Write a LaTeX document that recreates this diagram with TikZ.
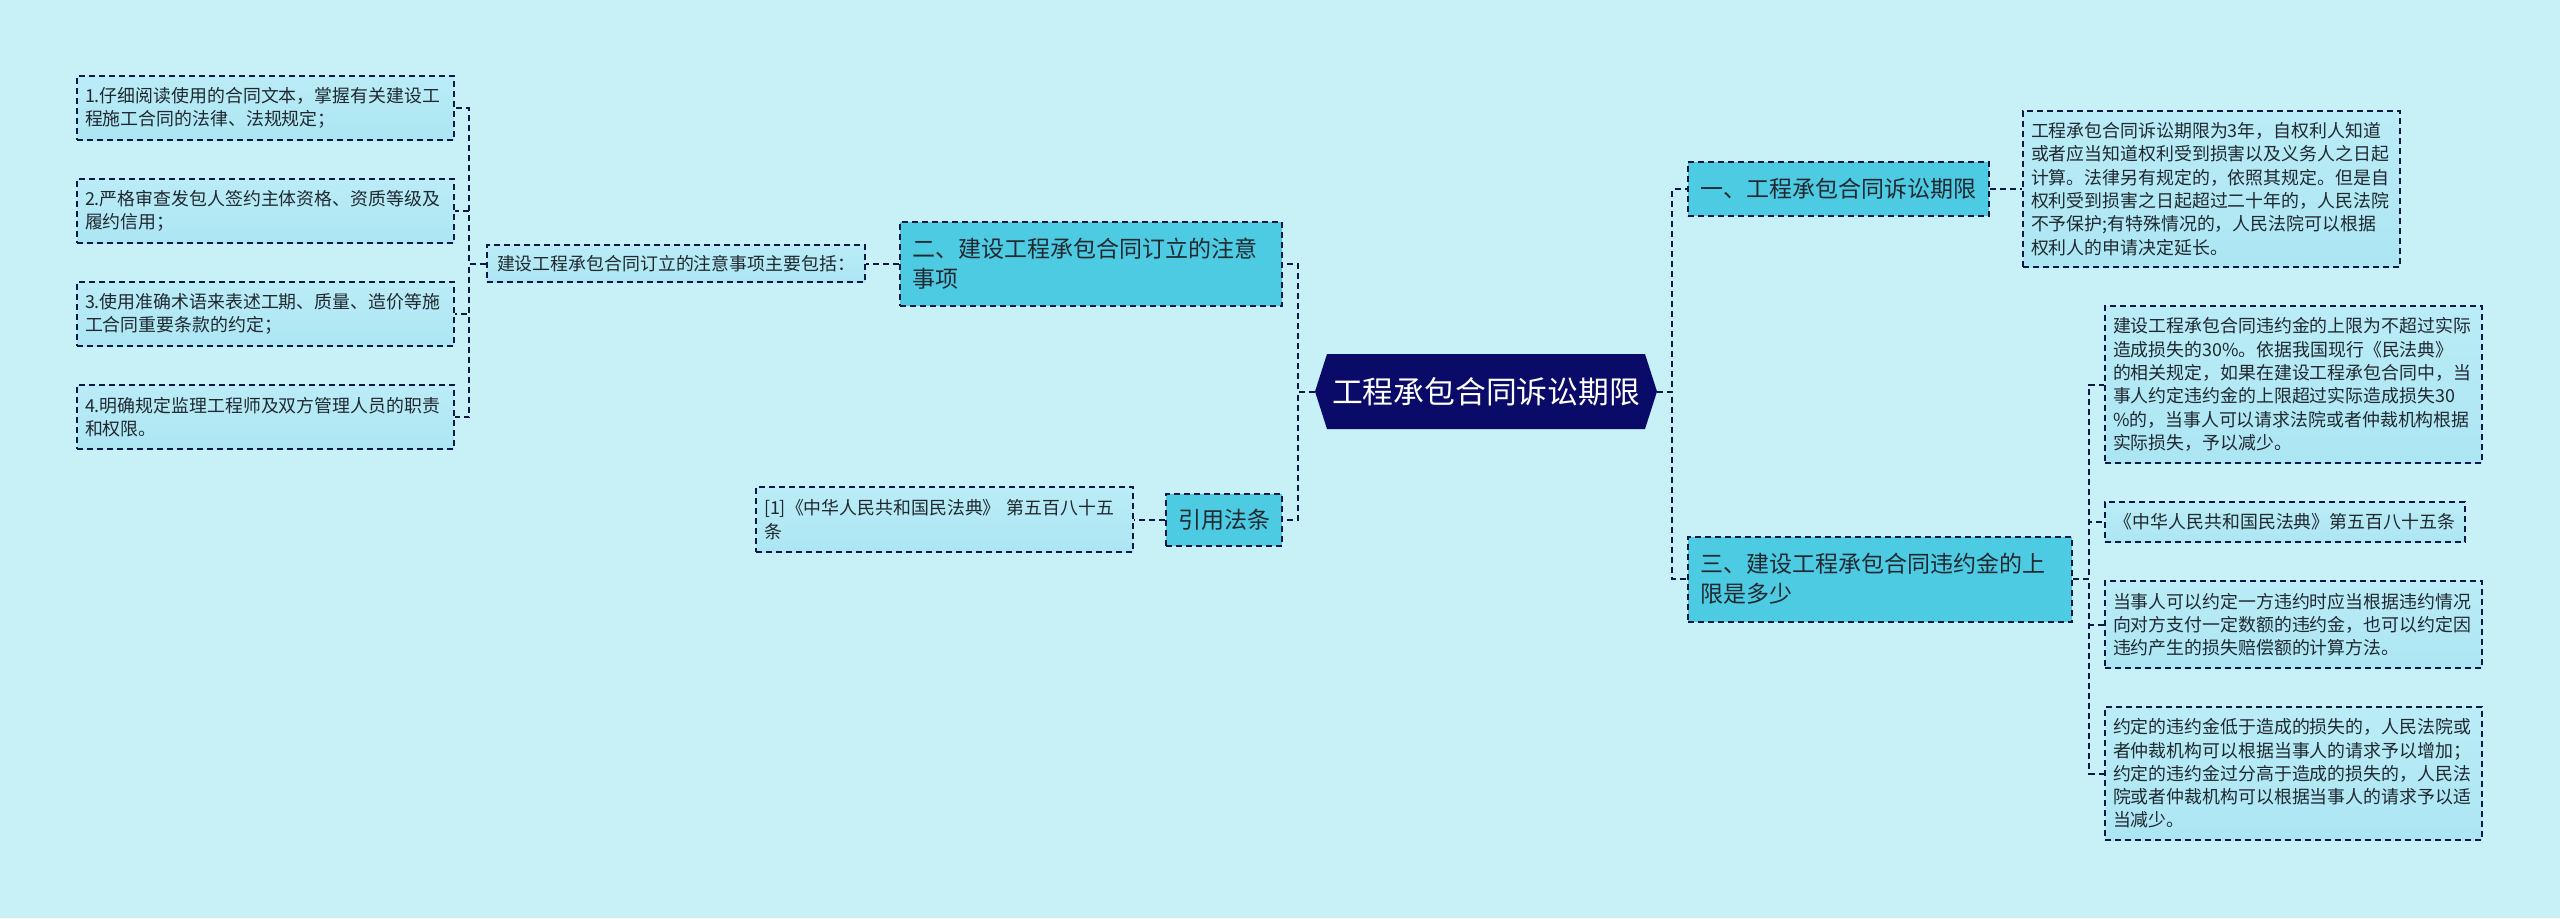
\documentclass[tikz,border=0pt]{standalone}
\usepackage{fontspec}
\setmainfont{Noto Sans CJK SC}
\usetikzlibrary{calc}
\definecolor{bgc}{RGB}{200,240,247}
\definecolor{lightc}{RGB}{172,230,243}
\definecolor{lighttop}{RGB}{186,236,246}
\definecolor{midc}{RGB}{77,203,227}
\definecolor{rootc}{RGB}{10,10,105}
\definecolor{linec}{RGB}{14,24,68}
\definecolor{txtc}{RGB}{32,40,48}
\begin{document}
\begin{tikzpicture}[x=0.5pt,y=-0.5pt,
  conn/.style={draw=linec, line width=1pt, dash pattern=on 3pt off 2pt},
  boxline/.style={draw=linec, line width=1pt, dash pattern=on 3pt off 2pt},
  smallbox/.style={boxline, top color=lighttop, bottom color=lightc, text=txtc,
    font=\fontsize{8.95pt}{11.65pt}\selectfont, align=left, inner xsep=4pt, inner ysep=0pt, text width=180.5pt},
  smallline/.style={boxline, top color=lighttop, bottom color=lightc, text=txtc,
    font=\fontsize{8.95pt}{11.65pt}\selectfont, align=center, inner xsep=4pt, inner ysep=0pt},
  midbox/.style={boxline, fill=midc, text=txtc,
    font=\fontsize{11.5pt}{15pt}\selectfont, align=left, inner xsep=6pt, inner ysep=0pt},
  midline/.style={boxline, fill=midc, text=txtc,
    font=\fontsize{11.5pt}{15pt}\selectfont, align=center, inner xsep=6pt, inner ysep=0pt},
  rootnode/.style={text=white, font=\fontsize{15.4pt}{18pt}\selectfont, inner sep=0pt,
    minimum width=171pt, minimum height=37.5pt}
]
\fill[bgc] (0,0) rectangle (2560,918);
\useasboundingbox (0,0) rectangle (2560,918);

% root hexagon
\fill[rootc] (1315,391.5) -- (1327,354) -- (1645,354) -- (1657,391.5) -- (1645,429) -- (1327,429) -- cycle;
\node[rootnode] (root) at (1486,391.5) {工程承包合同诉讼期限};

% left side
\node[smallbox, minimum height=32pt] (l1) at (265.5,108) {1.仔细阅读使用的合同文本，掌握有关建设工\\程施工合同的法律、法规规定；};
\node[smallbox, minimum height=32pt] (l2) at (265.5,211) {2.严格审查发包人签约主体资格、资质等级及\\履约信用；};
\node[smallbox, minimum height=32pt] (l3) at (265.5,314) {3.使用准确术语来表述工期、质量、造价等施\\工合同重要条款的约定；};
\node[smallbox, minimum height=32pt] (l4) at (265.5,417) {4.明确规定监理工程师及双方管理人员的职责\\和权限。};
\node[smallline, minimum width=189pt, minimum height=18.5pt] (m) at (676,263.5) {建设工程承包合同订立的注意事项主要包括：};
\node[midbox, text width=179pt, minimum height=42pt] (n2) at (1091,263.5) {二、建设工程承包合同订立的注意\\事项};
\node[smallbox, minimum height=32.5pt] (ref) at (944.5,519.5) {[1]《中华人民共和国民法典》 第五百八十五\\条};
\node[midline, minimum width=58pt, minimum height=26pt] (yin) at (1224,519.5) {引用法条};

% right side
\node[midline, minimum width=150.5pt, minimum height=27pt] (n1) at (1838.5,189) {一、工程承包合同诉讼期限};
\node[smallbox, minimum height=78pt] (r1) at (2211.5,189) {工程承包合同诉讼期限为3年，自权利人知道\\或者应当知道权利受到损害以及义务人之日起\\计算。法律另有规定的，依照其规定。但是自\\权利受到损害之日起超过二十年的，人民法院\\不予保护;有特殊情况的，人民法院可以根据\\权利人的申请决定延长。};
\node[midbox, text width=180pt, minimum height=42.5pt] (n3) at (1880,579) {三、建设工程承包合同违约金的上\\限是多少};
\node[smallbox, minimum height=78.5pt] (r3a) at (2293.5,384.5) {建设工程承包合同违约金的上限为不超过实际\\造成损失的30\%。依据我国现行《民法典》\\的相关规定，如果在建设工程承包合同中，当\\事人约定违约金的上限超过实际造成损失30\\\%的，当事人可以请求法院或者仲裁机构根据\\实际损失，予以减少。};
\node[smallline, minimum width=180pt, minimum height=20pt] (r3b) at (2285,522) {《中华人民共和国民法典》第五百八十五条};
\node[smallbox, minimum height=43.5pt] (r3c) at (2293.5,624.5) {当事人可以约定一方违约时应当根据违约情况\\向对方支付一定数额的违约金，也可以约定因\\违约产生的损失赔偿额的计算方法。};
\node[smallbox, minimum height=66.5pt] (r3d) at (2293.5,773.5) {约定的违约金低于造成的损失的，人民法院或\\者仲裁机构可以根据当事人的请求予以增加；\\约定的违约金过分高于造成的损失的，人民法\\院或者仲裁机构可以根据当事人的请求予以适\\当减少。};

% connectors
\draw[conn] (root.west) -- ++(-17,0) |- (n2.east);
\draw[conn] (root.west) -- ++(-17,0) |- (yin.east);
\draw[conn] (n2.west) -- (m.east);
\draw[conn] (m.west) -- ++(-17,0) |- (l1.east);
\draw[conn] (m.west) -- ++(-17,0) |- (l2.east);
\draw[conn] (m.west) -- ++(-17,0) |- (l3.east);
\draw[conn] (m.west) -- ++(-17,0) |- (l4.east);
\draw[conn] (yin.west) -- (ref.east);
\draw[conn] (root.east) -- ++(15,0) |- (n1.west);
\draw[conn] (root.east) -- ++(15,0) |- (n3.west);
\draw[conn] (n1.east) -- (r1.west);
\draw[conn] (n3.east) -- ++(16,0) |- (r3a.west);
\draw[conn] (n3.east) -- ++(16,0) |- (r3b.west);
\draw[conn] (n3.east) -- ++(16,0) |- (r3c.west);
\draw[conn] (n3.east) -- ++(16,0) |- (r3d.west);
\end{tikzpicture}
\end{document}
